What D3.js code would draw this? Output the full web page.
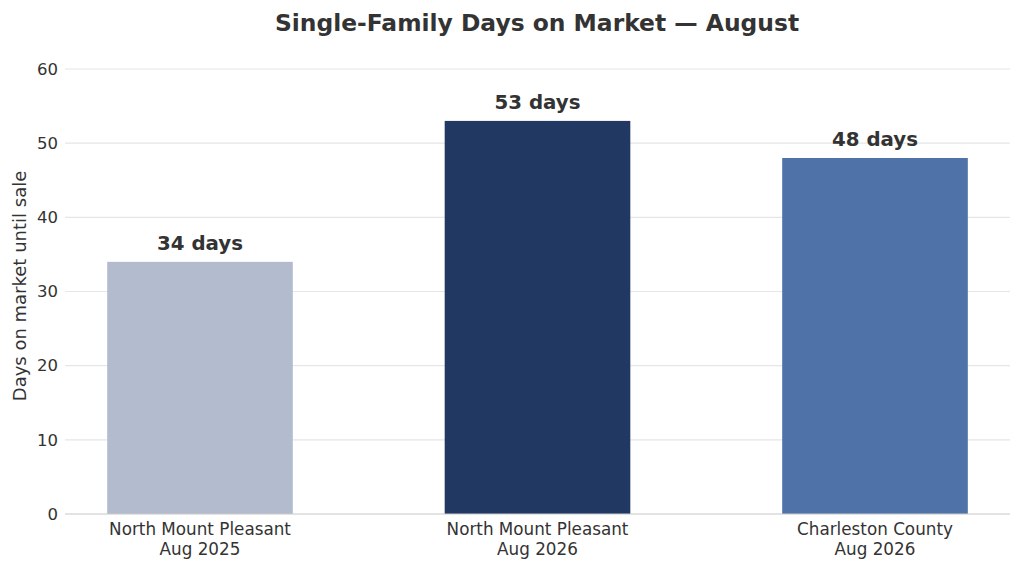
<!DOCTYPE html>
<html>
<head>
<style>
    body { margin: 0; background: #fff; }
    svg text { font-family: "DejaVu Sans", sans-serif; fill: #333; }
</style>
</head>
<body>
<svg id="chart" width="1023" height="569"></svg>
<script src="https://cdn.jsdelivr.net/npm/d3@7"></script>
<script>
    const categories = ["North Mount Pleasant|Aug 2025", "North Mount Pleasant|Aug 2026", "Charleston County|Aug 2026"];
    const daysOnMarket = [34, 53, 48];
    const barColors = ["#b3bccf", "#213863", "#4f72a9"];
    const yTicks = [0, 10, 20, 30, 40, 50, 60];

    const svg = d3.select("#chart");
    const plotLeft = 65, plotRight = 1010, plotTop = 69, plotBottom = 514;

    // bars sit at 0,1,2 like a matplotlib bar chart
    const x = d3.scaleLinear().domain([-0.4, 2.4]).range([plotLeft, plotRight]);
    const y = d3.scaleLinear().domain([0, 60]).range([plotBottom, plotTop]);
    const barW = x(0.55) - x(0);

    svg.append("text")
        .attr("x", 537).attr("y", 31)
        .attr("text-anchor", "middle")
        .style("font-size", "23.4px").style("font-weight", "bold")
        .text("Single-Family Days on Market — August");

    // grid
    svg.append("g").selectAll("line")
        .data(yTicks.filter(d => d > 0))
        .enter().append("line")
        .attr("x1", plotLeft).attr("x2", plotRight)
        .attr("y1", d => y(d)).attr("y2", d => y(d))
        .attr("stroke", "#e6e6e6").attr("stroke-width", 1.2);

    const yAxis = svg.append("g")
        .attr("transform", "translate(" + plotLeft + ",0)")
        .call(d3.axisLeft(y).tickValues(yTicks).tickSize(0).tickPadding(7));
    yAxis.select(".domain").remove();
    yAxis.selectAll("text").style("font-size", "16.5px").attr("fill", "#333");

    svg.append("text")
        .attr("transform", "translate(26,286) rotate(-90)")
        .attr("text-anchor", "middle")
        .style("font-size", "18px")
        .text("Days on market until sale");

    svg.append("g").selectAll("rect")
        .data(daysOnMarket)
        .enter().append("rect")
        .attr("x", (d, i) => x(i) - barW / 2)
        .attr("width", barW)
        .attr("y", d => y(d))
        .attr("height", d => y(0) - y(d))
        .attr("fill", (d, i) => barColors[i]);

    svg.append("g").selectAll("text")
        .data(daysOnMarket)
        .enter().append("text")
        .attr("x", (d, i) => x(i))
        .attr("y", d => y(d) - 12)
        .attr("text-anchor", "middle")
        .style("font-size", "19.8px").style("font-weight", "bold")
        .text(d => d + " days");

    svg.append("line")
        .attr("x1", plotLeft).attr("x2", plotRight)
        .attr("y1", plotBottom).attr("y2", plotBottom)
        .attr("stroke", "#c8c8c8").attr("stroke-width", 1.2);

    const xLabels = svg.append("g").selectAll("text")
        .data(categories)
        .enter().append("text")
        .attr("x", (d, i) => x(i))
        .attr("y", plotBottom + 21)
        .attr("text-anchor", "middle")
        .style("font-size", "16.8px");
    xLabels.selectAll("tspan")
        .data(d => d.split("|"))
        .enter().append("tspan")
        .attr("x", function () { return d3.select(this.parentNode).attr("x"); })
        .attr("dy", (d, i) => i === 0 ? 0 : 19.5)
        .text(d => d);
</script>
</body>
</html>
